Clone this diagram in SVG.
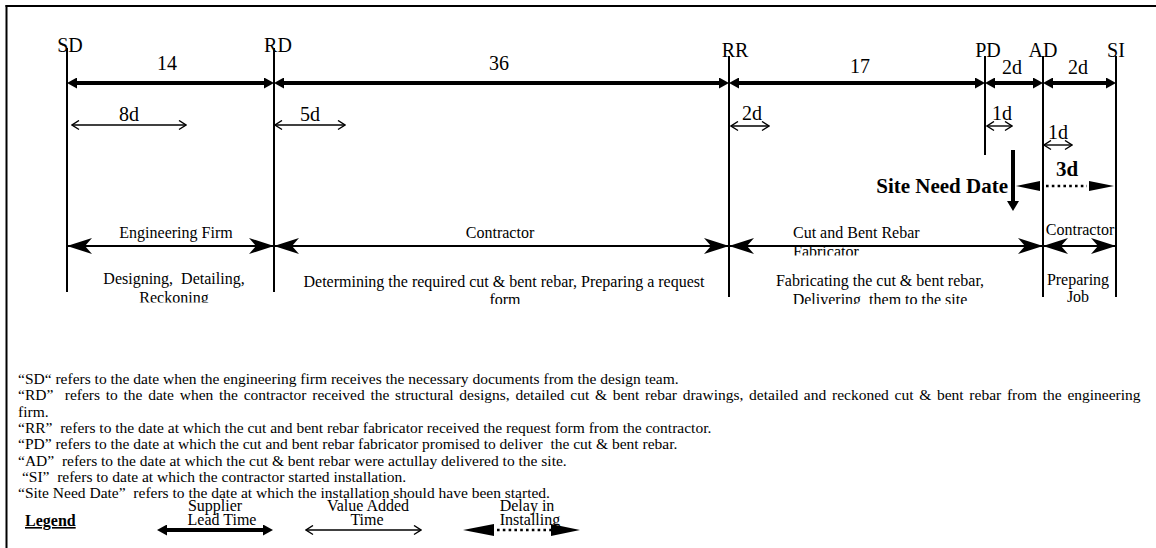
<svg xmlns="http://www.w3.org/2000/svg" width="1156" height="548" viewBox="0 0 1156 548">
<style>
text{font-family:"Liberation Serif","Times New Roman",serif;fill:#000}
.lb{font-size:20px}
.sm{font-size:16px}
.df{font-size:15.5px}
.b{font-weight:bold}
.c{text-anchor:middle}
.e{text-anchor:end}
.v{stroke:#000;stroke-width:2;fill:none}
.tk{stroke:#000;stroke-width:4;fill:none}
.tn{stroke:#000;stroke-width:1.4;fill:none}
.rs{stroke:#000;stroke-width:2;fill:none}
.dot{stroke:#000;stroke-width:2.6;stroke-dasharray:2.6 3.2;fill:none}
</style>
<defs>
<marker id="fh" viewBox="0 0 10 11" refX="0" refY="5.5" markerWidth="10" markerHeight="11" orient="auto-start-reverse" markerUnits="userSpaceOnUse"><path d="M0,0 L10,5.5 L0,11 Z" fill="#000"/></marker>
<marker id="ch" viewBox="-1 -1 9 11" refX="7" refY="4.5" markerWidth="9" markerHeight="11" orient="auto-start-reverse" markerUnits="userSpaceOnUse"><path d="M0,0 L7,4.5 L0,9" fill="none" stroke="#000" stroke-width="1.4"/></marker>
<marker id="sb" viewBox="0 0 25 16" refX="25" refY="8" markerWidth="25" markerHeight="16" orient="auto-start-reverse" markerUnits="userSpaceOnUse"><path d="M25,8 L0,0 L7,8 L0,16 Z" fill="#000"/></marker>
<marker id="dn" viewBox="0 0 12 10" refX="6" refY="0" markerWidth="12" markerHeight="10" orient="0" markerUnits="userSpaceOnUse"><path d="M0,0 L12,0 L6,10 Z" fill="#000"/></marker>
<clipPath id="c1"><rect x="0" y="0" width="1156" height="302.5"/></clipPath>
<clipPath id="c2"><rect x="0" y="0" width="1156" height="304"/></clipPath>
<clipPath id="c3"><rect x="0" y="0" width="1156" height="305"/></clipPath>
<clipPath id="cf"><rect x="0" y="0" width="1156" height="255.5"/></clipPath>
</defs>

<g id="frame">
<line x1="6.5" y1="5" x2="6.5" y2="548" class="v"/>
<line x1="5.5" y1="6" x2="1156" y2="6" class="v"/>
</g>

<g id="sd"><line x1="67" y1="48" x2="67" y2="292" class="v"/><text x="70" y="52" class="lb c">SD</text></g>
<g id="rd"><line x1="274" y1="48" x2="274" y2="292" class="v"/><text x="278" y="52" class="lb c">RD</text></g>
<g id="rr"><line x1="729" y1="56" x2="729" y2="297" class="v"/><text x="735" y="57" class="lb c">RR</text></g>
<g id="pd"><line x1="985" y1="56" x2="985" y2="155" class="v"/><text x="988" y="57" class="lb c">PD</text></g>
<g id="ad"><line x1="1043" y1="56" x2="1043" y2="297" class="v"/><text x="1043" y="57" class="lb c">AD</text></g>
<g id="si"><line x1="1116" y1="56" x2="1116" y2="297" class="v"/><text x="1116" y="57" class="lb c">SI</text></g>

<g id="connectors">
<line x1="77" y1="83" x2="264" y2="83" class="tk" marker-start="url(#fh)" marker-end="url(#fh)"/>
<line x1="284" y1="83" x2="719" y2="83" class="tk" marker-start="url(#fh)" marker-end="url(#fh)"/>
<line x1="739" y1="83" x2="975" y2="83" class="tk" marker-start="url(#fh)" marker-end="url(#fh)"/>
<line x1="995" y1="83" x2="1033" y2="83" class="tk" marker-start="url(#fh)" marker-end="url(#fh)"/>
<line x1="1053" y1="83" x2="1106" y2="83" class="tk" marker-start="url(#fh)" marker-end="url(#fh)"/>
<line x1="72" y1="125" x2="186" y2="125" class="tn" marker-start="url(#ch)" marker-end="url(#ch)"/>
<line x1="275" y1="125" x2="345" y2="125" class="tn" marker-start="url(#ch)" marker-end="url(#ch)"/>
<line x1="731" y1="126" x2="769" y2="126" class="tn" marker-start="url(#ch)" marker-end="url(#ch)"/>
<line x1="987" y1="126" x2="1012" y2="126" class="tn" marker-start="url(#ch)" marker-end="url(#ch)"/>
<line x1="1044" y1="145" x2="1072" y2="145" class="tn" marker-start="url(#ch)" marker-end="url(#ch)"/>
<line x1="1013" y1="150" x2="1013" y2="201" class="tk" marker-end="url(#dn)"/>
<polygon points="1016,186 1040,181 1040,191" fill="#000"/>
<line x1="1046" y1="186" x2="1087" y2="186" class="dot"/>
<polygon points="1114,186 1089,181 1089,191" fill="#000"/>
<line x1="67" y1="246" x2="274" y2="246" class="rs" marker-start="url(#sb)" marker-end="url(#sb)"/>
<line x1="274" y1="246" x2="729" y2="246" class="rs" marker-start="url(#sb)" marker-end="url(#sb)"/>
<line x1="729" y1="246" x2="1043" y2="246" class="rs" marker-start="url(#sb)" marker-end="url(#sb)"/>
<line x1="1043" y1="246" x2="1116" y2="246" class="rs" marker-start="url(#sb)" marker-end="url(#sb)"/>
</g>

<g id="labels">
<text x="167" y="70" class="lb c">14</text>
<text x="499" y="70" class="lb c">36</text>
<text x="860" y="73" class="lb c">17</text>
<text x="1012" y="74" class="lb c">2d</text>
<text x="1078" y="74" class="lb c">2d</text>
<text x="129" y="121" class="lb c">8d</text>
<text x="310" y="121" class="lb c">5d</text>
<text x="752" y="120" class="lb c">2d</text>
<text x="1002" y="120" class="lb c">1d</text>
<text x="1058" y="139" class="lb c">1d</text>
<text x="1008" y="193" class="e b" font-size="21">Site Need Date</text>
<text x="1067" y="176" class="c b" font-size="21">3d</text>
<text x="176" y="238" class="sm c">Engineering Firm</text>
<text x="500" y="238" class="sm c">Contractor</text>
<g clip-path="url(#cf)"><text x="793" y="238" class="sm">Cut and Bent Rebar</text><text x="793" y="257" class="sm">Fabricator</text></g>
<text x="1080" y="235" class="sm c">Contractor</text>
<text x="174" y="284" class="sm c" xml:space="preserve">Designing,  Detailing,</text>
<text x="174" y="303" class="sm c" clip-path="url(#c1)">Reckoning</text>
<text x="504" y="287" class="sm c">Determining the required cut &amp; bent rebar, Preparing a request</text>
<text x="505" y="305" class="sm c" clip-path="url(#c2)">form</text>
<text x="880" y="285.5" class="sm c">Fabricating the cut &amp; bent rebar,</text>
<text x="880" y="305" class="sm c" clip-path="url(#c2)" xml:space="preserve">Delivering  them to the site</text>
<text x="1078" y="284.5" class="sm c">Preparing</text>
<text x="1078" y="302" class="sm c" clip-path="url(#c3)">Job</text>
</g>

<g id="definitions">
<text x="18" y="384" class="df" xml:space="preserve">“SD“ refers to the date when the engineering firm receives the necessary documents from the design team.</text>
<text x="18" y="400.3" class="df" word-spacing="1.85" xml:space="preserve">“RD”  refers to the date when the contractor received the structural designs, detailed cut &amp; bent rebar drawings, detailed and reckoned cut &amp; bent rebar from the engineering</text>
<text x="18" y="416.6" class="df">firm.</text>
<text x="18" y="432.9" class="df" xml:space="preserve">“RR”  refers to the date at which the cut and bent rebar fabricator received the request form from the contractor.</text>
<text x="18" y="449.2" class="df" xml:space="preserve">“PD” refers to the date at which the cut and bent rebar fabricator promised to deliver  the cut &amp; bent rebar.</text>
<text x="18" y="465.5" class="df" xml:space="preserve">“AD”  refers to the date at which the cut &amp; bent rebar were actullay delivered to the site.</text>
<text x="18" y="481.8" class="df" xml:space="preserve"> “SI”  refers to date at which the contractor started installation.</text>
<text x="18" y="498.1" class="df" xml:space="preserve">“Site Need Date”  refers to the date at which the installation should have been started.</text>
</g>

<g id="legend">
<text x="25" y="526" class="sm b" text-decoration="underline">Legend</text>
<text x="215" y="511" class="sm c">Supplier</text>
<text x="222" y="525" class="sm c">Lead Time</text>
<line x1="167" y1="530" x2="263" y2="530" class="tk" marker-start="url(#fh)" marker-end="url(#fh)"/>
<text x="368" y="511" class="sm c">Value Added</text>
<text x="367" y="525" class="sm c">Time</text>
<line x1="306" y1="530" x2="421" y2="530" class="tn" marker-start="url(#ch)" marker-end="url(#ch)"/>
<text x="527" y="511" class="sm c">Delay in</text>
<text x="530" y="525" class="sm c">Installing</text>
<polygon points="463,530 494,524 494,536" fill="#000"/>
<line x1="497" y1="530" x2="551" y2="530" class="dot"/>
<polygon points="580,530 551,524 551,536" fill="#000"/>
</g>
</svg>
